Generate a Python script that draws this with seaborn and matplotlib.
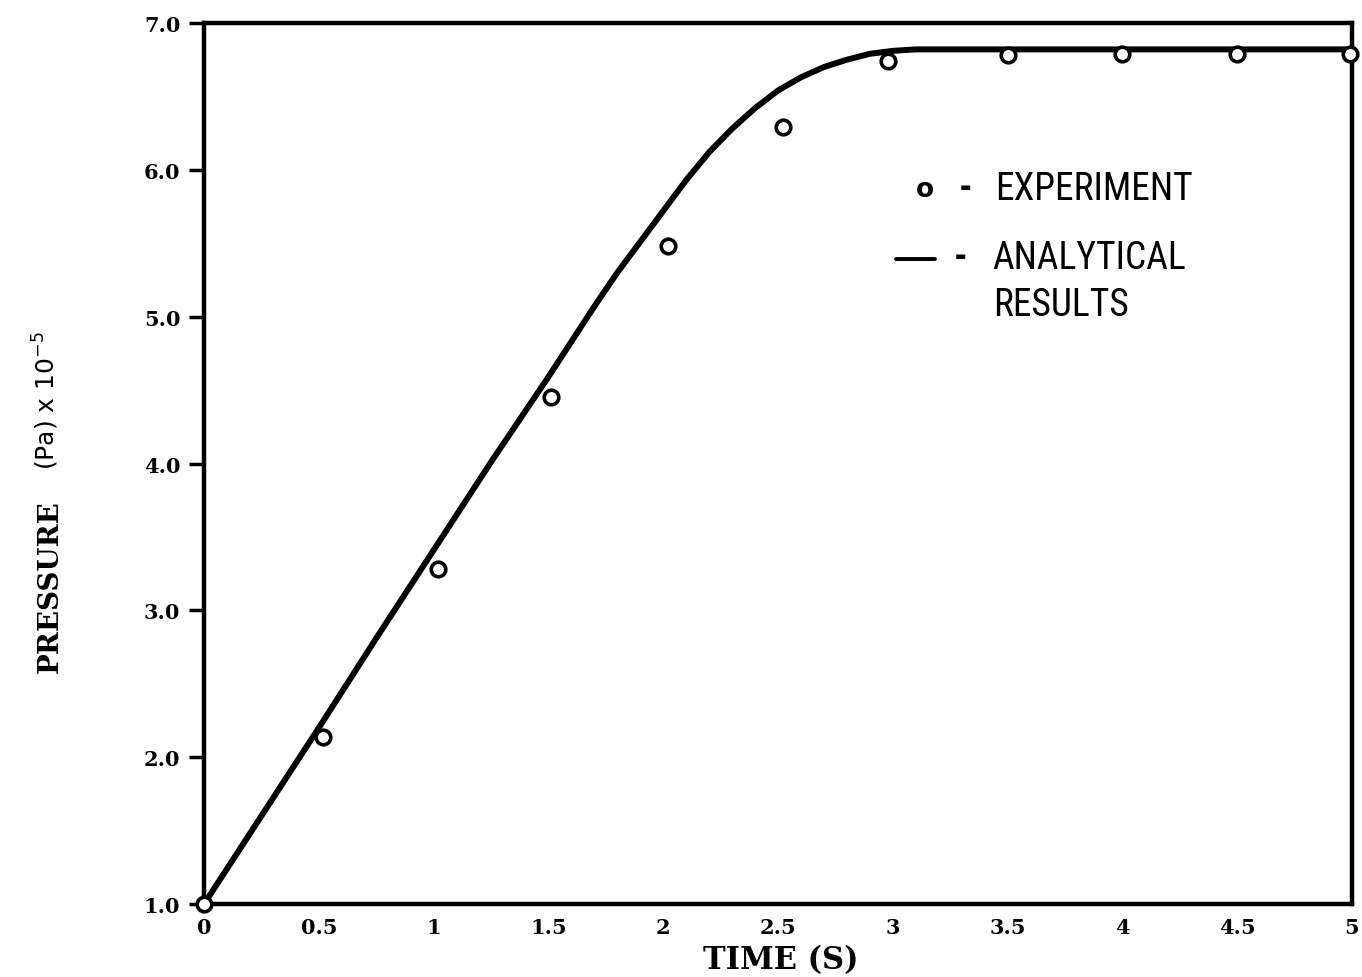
import numpy as np
import pandas as pd
import matplotlib
matplotlib.use('Agg')
import matplotlib.pyplot as plt
from matplotlib import font_manager
import seaborn as sns

# experiment points (time in s, pressure in Pa x 1e-5)
exp_time = [0.0, 0.52, 1.02, 1.51, 2.02, 2.52, 2.98, 3.5, 4.0, 4.5, 4.99]
exp_pressure = [1.0, 2.14, 3.28, 4.45, 5.48, 6.29, 6.74, 6.78, 6.79, 6.79, 6.79]

# analytical curve
ana_time = [0.0, 0.25, 0.5, 0.75, 1.0, 1.25, 1.5, 1.6, 1.7, 1.8, 1.9, 2.0, 2.1, 2.2,
            2.3, 2.4, 2.5, 2.6, 2.7, 2.8, 2.9, 3.0, 3.1, 3.2, 3.5, 4.0, 4.5, 5.0]
ana_pressure = [1.0, 1.60, 2.20, 2.81, 3.41, 4.01, 4.59, 4.83, 5.07, 5.30, 5.51, 5.72, 5.93, 6.12,
                6.28, 6.42, 6.54, 6.63, 6.70, 6.75, 6.79, 6.81, 6.82, 6.82, 6.82, 6.82, 6.82, 6.82]

x_ticks = [0, 0.5, 1, 1.5, 2, 2.5, 3, 3.5, 4, 4.5, 5]
x_labels = ['0', '0.5', '1', '1.5', '2', '2.5', '3', '3.5', '4', '4.5', '5']
y_ticks = [1, 2, 3, 4, 5, 6, 7]
y_labels = ['1.0', '2.0', '3.0', '4.0', '5.0', '6.0', '7.0']

exp_df = pd.DataFrame({'time': exp_time, 'pressure': exp_pressure})
ana_df = pd.DataFrame({'time': ana_time, 'pressure': ana_pressure})

sns.set_theme(style='ticks')
plt.rcParams['font.family'] = ['DejaVu Serif']
plt.rcParams['text.color'] = 'black'
plt.rcParams['xtick.color'] = 'black'
plt.rcParams['ytick.color'] = 'black'

# pick a narrow font for the legend text if one is installed
names = {f.name for f in font_manager.fontManager.ttflist}
narrow = [n for n in ['Roboto Condensed', 'Liberation Sans Narrow', 'Open Sans Condensed'] if n in names]
if narrow:
    leg_font = [narrow[0], 'DejaVu Sans']
    leg_size = 27
else:
    leg_font = ['DejaVu Sans']
    leg_size = 22

fig = plt.figure(figsize=(13.62, 9.78), dpi=100)
ax = fig.add_axes([0.1498, 0.0746, 0.8429, 0.9009])

sns.lineplot(data=ana_df, x='time', y='pressure', ax=ax, color='black', linewidth=4.3,
             sort=False, estimator=None)
sns.scatterplot(data=exp_df, x='time', y='pressure', ax=ax, marker='o', s=110,
                facecolor='white', edgecolor='black', linewidth=2.6, zorder=5, clip_on=False)

ax.set_xlim(0, 5)
ax.set_ylim(1, 7)
ax.set_xticks(x_ticks)
ax.set_xticklabels(x_labels, fontsize=15, fontweight='bold')
ax.set_yticks(y_ticks)
ax.set_yticklabels(y_labels, fontsize=15, fontweight='bold')
ax.tick_params(axis='x', length=0, pad=9)
ax.tick_params(axis='y', length=11, width=2.5, pad=6)
for sp in ax.spines.values():
    sp.set_linewidth(3.2)
    sp.set_color('black')
ax.set_xlabel('')
ax.set_ylabel('')

fig.text(0.573, 0.018, 'TIME (S)', fontsize=22, fontweight='bold', ha='center', va='center')
fig.text(0.037, 0.4, 'PRESSURE', fontsize=20, fontweight='bold', rotation=90,
         ha='center', va='center')
fig.text(0.034, 0.59, '(Pa) x 10$^{-5}$', fontsize=18, rotation=90, ha='center', va='center',
         family=['DejaVu Sans'])

# legend drawn as plain text, like the original figure
ax.text(0.628, 0.812, 'o', transform=ax.transAxes, fontsize=19, fontweight='bold',
        family=['DejaVu Sans'], va='center', ha='center')
ax.text(0.663, 0.812, '-', transform=ax.transAxes, fontsize=leg_size, fontweight='bold',
        family=leg_font, va='center', ha='center')
ax.text(0.689, 0.812, 'EXPERIMENT', transform=ax.transAxes, fontsize=leg_size,
        family=leg_font, va='center', ha='left')
ax.plot([0.603, 0.637], [0.732, 0.732], transform=ax.transAxes, color='black', linewidth=2.8)
ax.text(0.659, 0.734, '-', transform=ax.transAxes, fontsize=leg_size, fontweight='bold',
        family=leg_font, va='center', ha='center')
ax.text(0.687, 0.734, 'ANALYTICAL', transform=ax.transAxes, fontsize=leg_size,
        family=leg_font, va='center', ha='left')
ax.text(0.687, 0.681, 'RESULTS', transform=ax.transAxes, fontsize=leg_size,
        family=leg_font, va='center', ha='left')

fig.savefig('out.png', dpi=100)
